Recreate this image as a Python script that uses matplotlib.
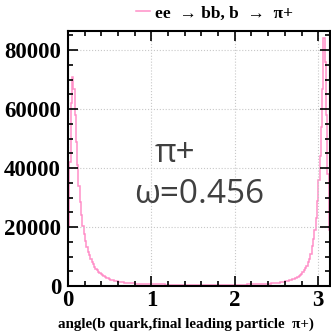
import numpy as np
import matplotlib.pyplot as plt
from matplotlib.ticker import MultipleLocator

# histogram contents, 200 bins over [0, pi]
counts = [
    20000, 42000, 62000, 71000, 67000, 58000, 49000, 41000, 34000, 28500,
    24000, 20500, 17500, 15200, 13300, 11700, 10400, 9200, 8200, 7300,
    6600, 5900, 5300, 4800, 4350, 3950, 3600, 3300, 3000, 2750,
    2550, 2350, 2180, 2030, 1900, 1780, 1670, 1570, 1480, 1400,
    1320, 1250, 1190, 1130, 1080, 1030, 990, 950, 910, 880,
    850, 820, 790, 765, 740, 720, 700, 680, 665, 650,
    635, 620, 608, 596, 585, 575, 565, 556, 548, 540,
    533, 526, 520, 514, 508, 503, 498, 494, 490, 486,
    483, 480, 477, 474, 472, 470, 468, 466, 465, 464,
    463, 462, 461, 460, 460, 459, 459, 459, 459, 459,
    459, 459, 459, 459, 459, 459, 459, 459, 459, 459,
    459, 459, 459, 459, 459, 459, 459, 459, 459, 459,
    460, 460, 461, 462, 463, 464, 466, 468, 471, 474,
    477, 481, 485, 490, 495, 501, 508, 515, 523, 532,
    542, 553, 565, 578, 592, 608, 625, 644, 664, 686,
    710, 735, 765, 795, 830, 865, 905, 950, 995, 1045,
    1100, 1160, 1230, 1300, 1380, 1470, 1570, 1680, 1800, 1930,
    2080, 2250, 2440, 2650, 2880, 3150, 3450, 3800, 4200, 4700,
    5300, 6000, 6900, 8000, 9300, 10800, 13500, 16000, 19000, 23000,
    29000, 36000, 44000, 54000, 67000, 84000, 76000, 58000, 38000, 19000,
]
x_min, x_max = 0, np.pi
legend_label = 'ee  \u2192 bb, b  \u2192  \u03c0+'
x_title = 'angle(b quark,final leading particle  \u03c0+)'

pink = '#ff8fc8'
serif = ['Liberation Serif', 'DejaVu Serif']

plt.rcParams['font.family'] = serif
plt.rcParams['font.weight'] = 'bold'

fig = plt.figure(figsize=(3.31, 3.34), dpi=100)
ax = fig.add_axes([0.2054, 0.1437, 0.7916, 0.7633])

edges = np.linspace(x_min, x_max, len(counts) + 1)
ax.stairs(counts, edges, color=pink, lw=1.1, label=legend_label)

ax.set_xlim(x_min, x_max)
ax.set_ylim(0, 86500)

ax.xaxis.set_major_locator(MultipleLocator(1))
ax.xaxis.set_minor_locator(MultipleLocator(0.2))
ax.yaxis.set_major_locator(MultipleLocator(20000))
ax.yaxis.set_minor_locator(MultipleLocator(5000))
ax.tick_params(which='both', direction='in', top=True, right=True, width=1.2)
ax.tick_params(which='major', length=7)
ax.tick_params(which='minor', length=3.5)
ax.tick_params(axis='x', pad=3)
ax.tick_params(axis='y', pad=5)
for lab in ax.get_xticklabels(which='major') + ax.get_yticklabels(which='major'):
    lab.set_fontsize(16.5)
for sp in ax.spines.values():
    sp.set_linewidth(1.5)

ax.grid(True, which='major', color='#c8c8c8', linestyle=':', linewidth=0.8)

ax.set_xlabel(x_title, fontweight='bold', fontsize=10.8)
ax.xaxis.set_label_coords(0.45, -0.125)

ax.text(0.41, 0.52, '\u03c0+', transform=ax.transAxes, ha='center', va='center',
        fontsize=24, color='#404040', fontfamily='Open Sans', fontweight='normal')
ax.text(0.5, 0.357, '\u03c9=0.456', transform=ax.transAxes, ha='center', va='center',
        fontsize=24, color='#404040', fontfamily='Open Sans', fontweight='normal')

ax.legend(loc='lower center', bbox_to_anchor=(0.56, 1.0), frameon=False,
          handlelength=0.8, handletextpad=0.3, borderaxespad=0.15,
          prop={'family': serif, 'weight': 'bold', 'size': 12.5})

fig.savefig('out.png', dpi=100)
